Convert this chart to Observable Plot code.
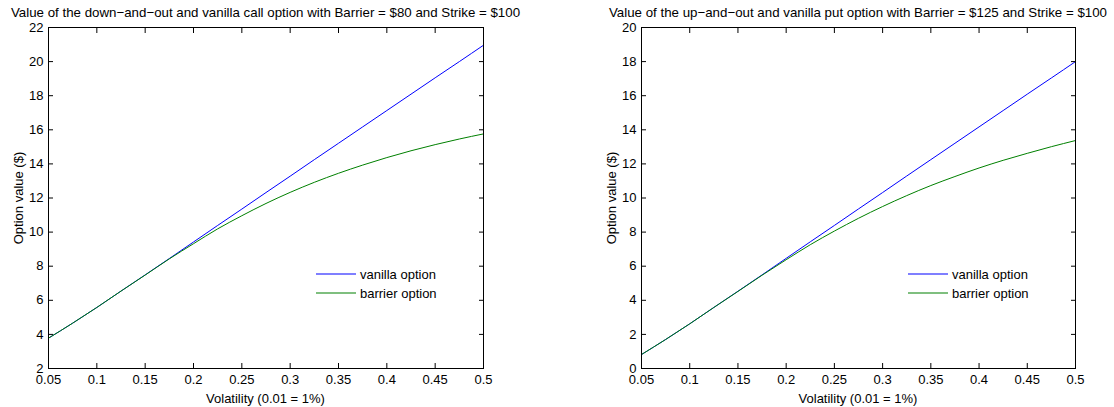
<!DOCTYPE html>
<html>
<head>
<meta charset="utf-8">
<script src="https://cdn.jsdelivr.net/npm/d3@7"></script>
<script src="https://cdn.jsdelivr.net/npm/@observablehq/plot@0.6"></script>
<style>
  html, body { margin: 0; padding: 0; background: #fff; }
  #wrap { position: relative; width: 1114px; height: 407px; overflow: hidden;
          font-family: "Liberation Sans", Arial, Helvetica, sans-serif; font-size: 13px; color: #000; }
  .panel { position: absolute; top: 0; }
  .lbl { position: absolute; white-space: nowrap; line-height: 15px; transform: translate(-50%, -50%); }
  .ttl { font-size: 13.3px; }
  .ylbl { position: absolute; white-space: nowrap; line-height: 15px; transform: translate(-50%, -50%) rotate(-90deg); }
  .leg { position: absolute; display: flex; align-items: center; line-height: 15px; white-space: nowrap; transform: translateY(-50%); }
  .leg span.sw { display: inline-block; width: 40px; height: 0; border-top: 1px solid; margin-right: 4px; }
</style>
</head>
<body>
<div id="wrap"></div>
<script>
// ---- data ----
const vol = [0.05, 0.075, 0.1, 0.125, 0.15, 0.175, 0.2, 0.225, 0.25, 0.275, 0.3, 0.325, 0.35, 0.375, 0.4, 0.425, 0.45, 0.475, 0.5];

const callVanilla = [3.78, 4.66, 5.58, 6.54, 7.49, 8.45, 9.42, 10.39, 11.35, 12.32, 13.28, 14.25, 15.21, 16.17, 17.13, 18.09, 19.05, 20.00, 20.96];
const callBarrier = [3.78, 4.66, 5.58, 6.54, 7.48, 8.43, 9.32, 10.19, 10.96, 11.68, 12.33, 12.92, 13.45, 13.93, 14.37, 14.77, 15.13, 15.46, 15.76];

const putVanilla = [0.82, 1.70, 2.62, 3.58, 4.53, 5.49, 6.46, 7.43, 8.39, 9.36, 10.32, 11.29, 12.25, 13.21, 14.17, 15.13, 16.09, 17.04, 18.00];
const putBarrier = [0.82, 1.70, 2.62, 3.58, 4.52, 5.47, 6.38, 7.26, 8.06, 8.81, 9.50, 10.14, 10.73, 11.26, 11.76, 12.21, 12.62, 13.01, 13.37];

const xTicks = [0.05, 0.1, 0.15, 0.2, 0.25, 0.3, 0.35, 0.4, 0.45, 0.5];
const yTicksCall = [2, 4, 6, 8, 10, 12, 14, 16, 18, 20, 22];
const yTicksPut = [0, 2, 4, 6, 8, 10, 12, 14, 16, 18, 20];

const titles = [
  "Value of the down\u2212and\u2212out and vanilla call option with Barrier = $80 and Strike = $100",
  "Value of the up\u2212and\u2212out and vanilla put option with Barrier = $125 and Strike = $100"
];
const xLabel = "Volatility (0.01 = 1%)";
const yLabel = "Option value ($)";
const seriesNames = ["vanilla option", "barrier option"];
const seriesColors = ["#0000ff", "#008000"];

// ---- drawing ----
const W = 557, H = 407, MT = 27, MB = 39;

function panel({vanilla, barrier, yDomain, yTicks, marginLeft, marginRight}) {
  const rows = vol.map((v, i) => ({vol: v, vanilla: vanilla[i], barrier: barrier[i]}));
  return Plot.plot({
    width: W, height: H,
    marginLeft, marginRight, marginTop: MT, marginBottom: MB,
    style: {fontFamily: '"Liberation Sans", Arial, Helvetica, sans-serif', fontSize: "13px", color: "#000", background: "transparent", overflow: "visible"},
    x: {domain: [0.05, 0.5]},
    y: {domain: yDomain},
    marks: [
      Plot.lineY(rows, {x: "vol", y: "vanilla", stroke: seriesColors[0], strokeWidth: 1, curve: "monotone-x"}),
      Plot.lineY(rows, {x: "vol", y: "barrier", stroke: seriesColors[1], strokeWidth: 1, curve: "monotone-x"}),
      Plot.axisX(xTicks, {anchor: "bottom", tickSize: -5, tickPadding: 11, tickFormat: d => String(d), label: null, fontSize: 13}),
      Plot.axisX(xTicks, {anchor: "top", tickSize: -5, tickFormat: () => "", label: null}),
      Plot.axisY(yTicks, {anchor: "left", tickSize: -5, tickPadding: 10, tickFormat: d => String(d), label: null, fontSize: 13}),
      Plot.axisY(yTicks, {anchor: "right", tickSize: -5, tickFormat: () => "", label: null}),
      Plot.frame({stroke: "#000", strokeWidth: 1})
    ]
  });
}

const wrap = document.getElementById("wrap");
const specs = [
  {vanilla: callVanilla, barrier: callBarrier, yDomain: [2, 22], yTicks: yTicksCall, marginLeft: 48, marginRight: 74, left: 0},
  {vanilla: putVanilla, barrier: putBarrier, yDomain: [0, 20], yTicks: yTicksPut, marginLeft: 84, marginRight: 39, left: 557}
];

specs.forEach((s, i) => {
  const div = document.createElement("div");
  div.className = "panel";
  div.style.left = s.left + "px";
  div.appendChild(panel(s));
  wrap.appendChild(div);

  const x0 = s.left + s.marginLeft, x1 = s.left + W - s.marginRight;
  const cx = (x0 + x1) / 2, cy = (MT + (H - MB)) / 2;

  const t = document.createElement("div");
  t.className = "lbl ttl"; t.textContent = titles[i];
  t.style.left = cx + "px"; t.style.top = "12px";
  wrap.appendChild(t);

  const xl = document.createElement("div");
  xl.className = "lbl"; xl.textContent = xLabel;
  xl.style.left = cx + "px"; xl.style.top = "398px";
  wrap.appendChild(xl);

  const yl = document.createElement("div");
  yl.className = "ylbl"; yl.textContent = yLabel;
  yl.style.left = (x0 - 30) + "px"; yl.style.top = cy + "px";
  wrap.appendChild(yl);

  seriesNames.forEach((name, j) => {
    const lg = document.createElement("div");
    lg.className = "leg";
    lg.style.left = (x1 - 167) + "px";
    lg.style.top = (274 + j * 18.5) + "px";
    const sw = document.createElement("span");
    sw.className = "sw"; sw.style.borderTopColor = seriesColors[j];
    const tx = document.createElement("span");
    tx.textContent = name;
    lg.appendChild(sw); lg.appendChild(tx);
    wrap.appendChild(lg);
  });
});
</script>
</body>
</html>
